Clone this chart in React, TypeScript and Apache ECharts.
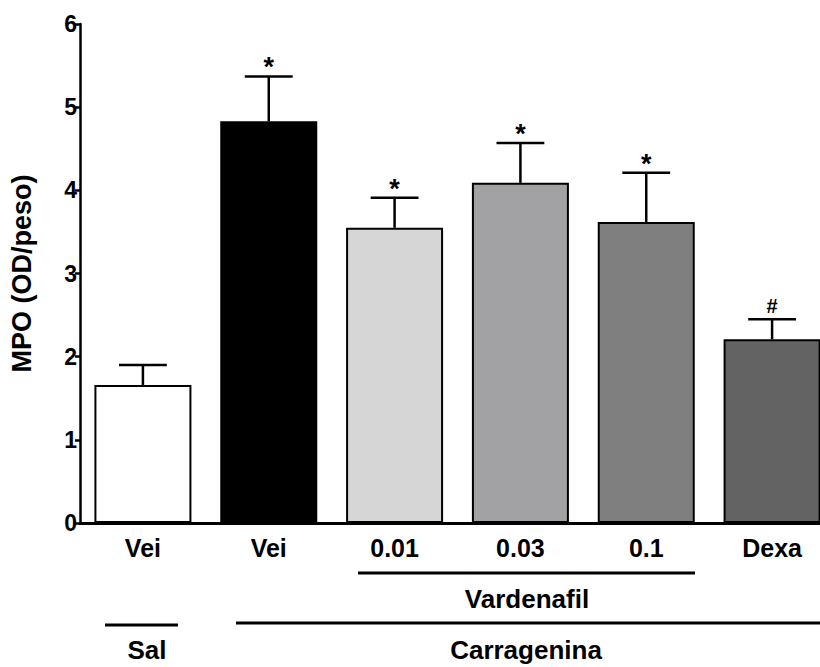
import React, { useEffect, useRef } from "react";
import * as echarts from "echarts";

const categories = ["Sal-Vei", "Car-Vei", "Var-0.01", "Var-0.03", "Var-0.1", "Dexa"];
const tickLabels = ["Vei", "Vei", "0.01", "0.03", "0.1", "Dexa"];
const means = [1.66, 4.83, 3.55, 4.09, 3.62, 2.21];
const sems = [0.24, 0.54, 0.36, 0.48, 0.59, 0.24];
const marks = ["", "*", "*", "*", "*", "#"];
const barColors = ["#ffffff", "#000000", "#d6d6d6", "#a2a2a5", "#7f7f7f", "#636363"];

const FONT = "Arial, 'Liberation Sans', Helvetica, sans-serif";

export default function App() {
  const ref = useRef<HTMLDivElement>(null);
  useEffect(() => {
    if (!ref.current) return;
    const chart = echarts.init(ref.current, null, { renderer: "svg" });
    const option: any = {
      animation: false,
      backgroundColor: "#ffffff",
      grid: { left: 80, top: 24, width: 755, height: 499, containLabel: false, outerBoundsMode: "none" },
      xAxis: {
        type: "category",
        data: categories,
        boundaryGap: true,
        axisLine: { show: true, lineStyle: { color: "#000", width: 3 } },
        axisTick: { show: false },
        axisLabel: {
          interval: 0,
          formatter: (_v: string, i: number) => tickLabels[i],
          fontFamily: FONT,
          fontWeight: "bold",
          fontSize: 25,
          color: "#000",
          margin: 12,
        },
        splitLine: { show: false },
      },
      yAxis: {
        type: "value",
        min: 0,
        max: 6,
        interval: 1,
        name: "MPO (OD/peso)",
        nameLocation: "middle",
        nameRotate: 90,
        nameGap: 45,
        nameTextStyle: { fontFamily: FONT, fontWeight: "bold", fontSize: 27, color: "#000" },
        axisLine: { show: true, lineStyle: { color: "#000", width: 2.5 } },
        axisTick: { show: true, inside: false, length: 5, lineStyle: { color: "#000", width: 2.5 } },
        axisLabel: { fontFamily: FONT, fontWeight: "bold", fontSize: 23, color: "#000", margin: 3 },
        splitLine: { show: false },
      },
      series: [
        {
          type: "bar",
          barWidth: 97,
          data: means.map((v, i) => ({
            value: v,
            itemStyle: { color: barColors[i], borderColor: "#000", borderWidth: 2 },
          })),
          z: 2,
        },
        {
          type: "custom",
          z: 3,
          data: means.map((m, i) => [i, m, sems[i]]),
          renderItem: (params: any, api: any) => {
            const x = api.value(0);
            const m = api.value(1);
            const e = api.value(2);
            const base = api.coord([x, m]);
            const top = api.coord([x, m + e]);
            const band = api.size([1, 0])[0];
            const half = band * 0.19;
            const mark = marks[params.dataIndex];
            const children: any[] = [
              {
                type: "line",
                shape: { x1: base[0], y1: base[1], x2: top[0], y2: top[1] },
                style: { stroke: "#000", lineWidth: 2.5 },
              },
              {
                type: "line",
                shape: { x1: top[0] - half, y1: top[1], x2: top[0] + half, y2: top[1] },
                style: { stroke: "#000", lineWidth: 2.5 },
              },
            ];
            if (mark) {
              children.push({
                type: "text",
                x: top[0],
                y: mark === "*" ? top[1] - 9 : top[1] - 13,
                style: {
                  text: mark,
                  fontFamily: FONT,
                  fontWeight: "bold",
                  fontSize: mark === "*" ? 27 : 20,
                  fill: "#000",
                  align: "center",
                  verticalAlign: "middle",
                },
              });
            }
            return { type: "group", children };
          },
        },
      ],
      graphic: [
        { type: "line", shape: { x1: 358, y1: 573, x2: 695, y2: 573 }, style: { stroke: "#000", lineWidth: 3 } },
        {
          type: "text",
          x: 527,
          y: 599,
          style: { text: "Vardenafil", fontFamily: FONT, fontWeight: "bold", fontSize: 26, fill: "#000", align: "center", verticalAlign: "middle" },
        },
        { type: "line", shape: { x1: 105, y1: 625, x2: 178, y2: 625 }, style: { stroke: "#000", lineWidth: 3 } },
        { type: "line", shape: { x1: 236, y1: 623, x2: 820, y2: 623 }, style: { stroke: "#000", lineWidth: 3 } },
        {
          type: "text",
          x: 147,
          y: 650,
          style: { text: "Sal", fontFamily: FONT, fontWeight: "bold", fontSize: 26, fill: "#000", align: "center", verticalAlign: "middle" },
        },
        {
          type: "text",
          x: 526,
          y: 650,
          style: { text: "Carragenina", fontFamily: FONT, fontWeight: "bold", fontSize: 26, fill: "#000", align: "center", verticalAlign: "middle" },
        },
      ],
    };
    chart.setOption(option);
    return () => chart.dispose();
  }, []);
  return (
    <div
      ref={ref}
      style={{ position: "fixed", left: 0, top: 0, width: 820, height: 667, background: "#fff" }}
    />
  );
}
